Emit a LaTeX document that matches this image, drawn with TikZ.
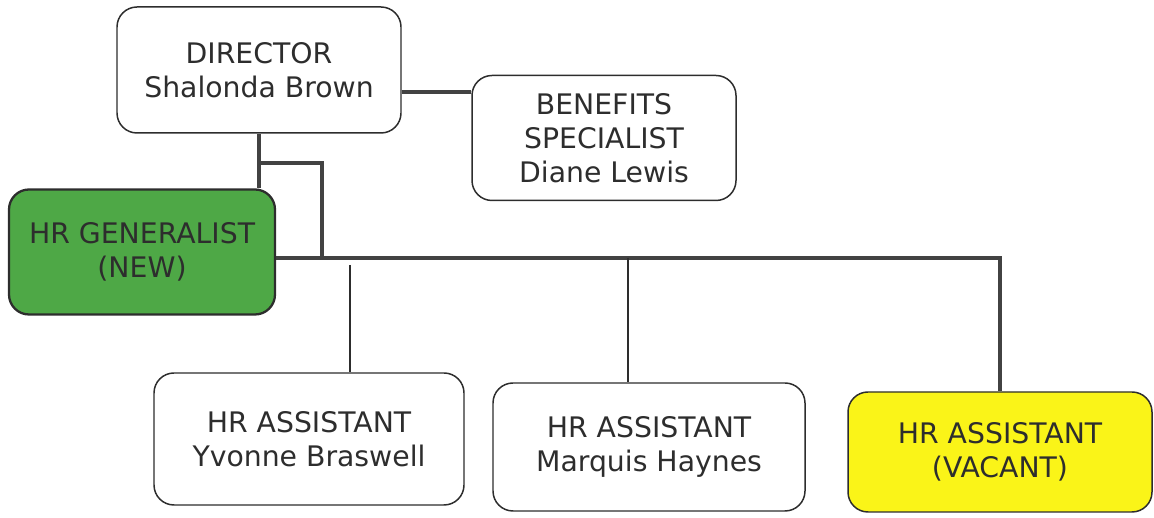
\documentclass[tikz,border=0pt]{standalone}
\usepackage{fontspec}
\setmainfont{DejaVu Sans}
\definecolor{ink}{RGB}{45,45,45}
\definecolor{newgreen}{RGB}{78,168,70}
\definecolor{vacantyellow}{RGB}{250,244,24}
\tikzset{
  post/.style={draw=ink, line width=0.85pt, rounded corners=0.4cm, align=center,
    text=ink, inner sep=0pt, font=\fontsize{16.1}{19.2}\selectfont},
  busline/.style={draw=ink!90, line width=2.2pt},
  tapline/.style={draw=ink, line width=0.8pt}
}
\begin{document}
\begin{tikzpicture}
\useasboundingbox (0,0) rectangle (23.08,10.36);

% top row
\node[post, minimum width=5.68cm, minimum height=2.52cm] (dir) at (5.18,8.96)
  {DIRECTOR\\Shalonda Brown};
\node[post, minimum width=5.28cm, minimum height=2.50cm] (ben) at (12.08,7.60)
  {BENEFITS\\SPECIALIST\\Diane Lewis};
\node[post, fill=newgreen, line width=1.3pt, minimum width=5.32cm, minimum height=2.50cm] (gen) at (2.84,5.32)
  {HR GENERALIST\\(NEW)};

% bottom row
\node[post, minimum width=6.20cm, minimum height=2.64cm] (yv) at (6.18,1.58)
  {HR ASSISTANT\\Yvonne Braswell};
\node[post, minimum width=6.24cm, minimum height=2.56cm] (mq) at (12.98,1.42)
  {HR ASSISTANT\\Marquis Haynes};
\node[post, fill=vacantyellow, minimum width=6.08cm, minimum height=2.40cm] (vac) at (20.00,1.32)
  {HR ASSISTANT\\(VACANT)};

% connectors
\coordinate (j1) at (5.16,7.10);
\coordinate (bus) at (6.44,5.20);
\coordinate (t1) at (7.00,5.06);
\coordinate (t2) at (12.56,5.20);

\draw[busline] ([yshift=-0.44cm]dir.east) -- ([yshift=-0.44cm]dir.east -| ben.west);
\draw[busline] (dir.south) -- (dir.south |- gen.north);
\draw[busline] (j1) -| (bus);
\draw[busline] (gen.east |- bus) -- (bus -| vac.north) -- (vac.north);
\draw[tapline] (t1) -- (t1 |- yv.north);
\draw[tapline] (t2) -- (t2 |- mq.north);

\end{tikzpicture}
\end{document}
